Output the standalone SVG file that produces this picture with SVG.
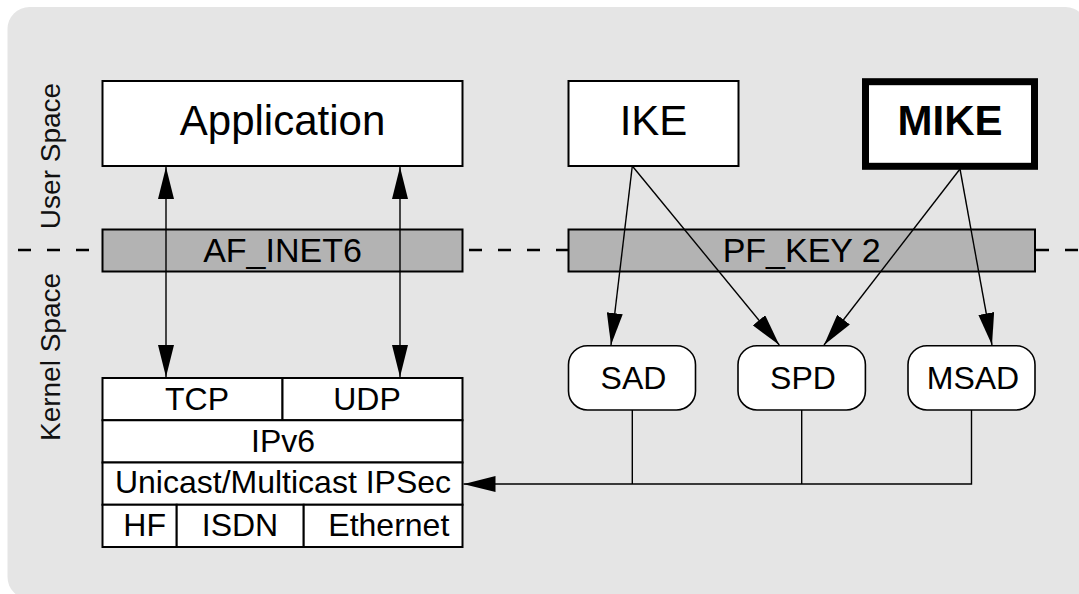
<svg xmlns="http://www.w3.org/2000/svg" width="1079" height="594" viewBox="0 0 1079 594">
  <style>
    text { font-family: "Liberation Sans", Arial, sans-serif; fill: #000; }
    .box { fill: #fff; stroke: #000; stroke-width: 2; }
    .bar { fill: #b3b3b3; stroke: #000; stroke-width: 2; }
    .db { fill: #fff; stroke: #000; stroke-width: 1.6; }
    .cell { fill: #fff; stroke: #000; stroke-width: 2; }
    .conn { fill: none; stroke: #000; stroke-width: 1.4; }
    .dash { fill: none; stroke: #000; stroke-width: 2.6; stroke-dasharray: 13 16; }
    .big { font-size: 42px; text-anchor: middle; }
    .mid { font-size: 34px; text-anchor: middle; }
    .sm { font-size: 32px; text-anchor: middle; }
    .side { font-size: 28px; text-anchor: middle; fill: #111; }
  </style>
  <defs>
    <marker id="arr" markerUnits="userSpaceOnUse" viewBox="0 0 32 16" markerWidth="32" markerHeight="16" refX="32" refY="8" orient="auto-start-reverse">
      <path d="M0,0 L32,8 L0,16 Z" fill="#000"/>
    </marker>
  </defs>

  <rect id="background" x="7.5" y="7" width="1080" height="592" rx="22" ry="22" fill="#e5e5e5"/>

  <g id="labels">
    <text class="side" transform="translate(60,156) rotate(-90)">User Space</text>
    <text class="side" transform="translate(60,357) rotate(-90)">Kernel Space</text>
  </g>

  <g id="boundary">
    <line class="dash" x1="18" y1="250" x2="102" y2="250"/>
    <line class="dash" x1="469" y1="250" x2="568" y2="250"/>
    <line class="dash" x1="1036" y1="250" x2="1079" y2="250"/>
  </g>

  <g id="application">
    <rect class="box" x="102.5" y="81" width="360" height="85"/>
    <text class="big" x="282.5" y="135">Application</text>
  </g>
  <g id="ike">
    <rect class="box" x="568.5" y="81" width="170" height="85"/>
    <text class="big" x="653.5" y="135">IKE</text>
  </g>
  <g id="mike">
    <rect class="box" x="865.5" y="81.7" width="169" height="84.6" style="stroke-width:7"/>
    <text class="big" x="950" y="135" font-weight="bold">MIKE</text>
  </g>

  <g id="af_inet6">
    <rect class="bar" x="102.5" y="229.5" width="360" height="42"/>
    <text class="mid" x="282.5" y="262">AF_INET6</text>
  </g>
  <g id="pf_key2">
    <rect class="bar" x="568.5" y="229.5" width="466.5" height="42"/>
    <text class="mid" x="801.7" y="262">PF_KEY 2</text>
  </g>

  <g id="sad">
    <rect class="db" x="568.5" y="345.7" width="127" height="64.3" rx="19" ry="19"/>
    <text class="sm" x="633.5" y="389.3">SAD</text>
  </g>
  <g id="spd">
    <rect class="db" x="738" y="345.7" width="127.4" height="64.3" rx="19" ry="19"/>
    <text class="sm" x="803" y="389.3">SPD</text>
  </g>
  <g id="msad">
    <rect class="db" x="908" y="345.7" width="127" height="64.3" rx="19" ry="19"/>
    <text class="sm" x="973" y="389.3">MSAD</text>
  </g>

  <g id="stack">
    <g id="tcp">
      <rect class="cell" x="102.5" y="378" width="180" height="42.25"/>
      <text class="sm" x="197" y="410">TCP</text>
    </g>
    <g id="udp">
      <rect class="cell" x="282.5" y="378" width="180" height="42.25"/>
      <text class="sm" x="367" y="410">UDP</text>
    </g>
    <g id="ipv6">
      <rect class="cell" x="102.5" y="420.25" width="360" height="42.25"/>
      <text class="sm" x="283" y="451.7">IPv6</text>
    </g>
    <g id="ipsec">
      <rect class="cell" x="102.5" y="462.5" width="360" height="42.25"/>
      <text class="sm" x="283" y="493.3">Unicast/Multicast IPSec</text>
    </g>
    <g id="hf">
      <rect class="cell" x="102.5" y="504.75" width="74.2" height="42.25"/>
      <text class="sm" x="144.6" y="536">HF</text>
    </g>
    <g id="isdn">
      <rect class="cell" x="176.7" y="504.75" width="127" height="42.25"/>
      <text class="sm" x="240" y="536">ISDN</text>
    </g>
    <g id="ethernet">
      <rect class="cell" x="303.7" y="504.75" width="158.8" height="42.25"/>
      <text class="sm" x="388.8" y="536">Ethernet</text>
    </g>
  </g>

  <g id="connectors">
    <line class="conn" x1="166" y1="167" x2="166" y2="377" marker-start="url(#arr)" marker-end="url(#arr)"/>
    <line class="conn" x1="400" y1="167" x2="400" y2="377" marker-start="url(#arr)" marker-end="url(#arr)"/>
    <line class="conn" x1="632.3" y1="166" x2="611" y2="345" marker-end="url(#arr)"/>
    <line class="conn" x1="632.3" y1="166" x2="779.3" y2="345" marker-end="url(#arr)"/>
    <line class="conn" x1="960" y1="169" x2="824" y2="345" marker-end="url(#arr)"/>
    <line class="conn" x1="960" y1="169" x2="992" y2="345" marker-end="url(#arr)"/>
    <line class="conn" x1="632.3" y1="410" x2="632.3" y2="484"/>
    <line class="conn" x1="801.7" y1="410" x2="801.7" y2="484"/>
    <polyline class="conn" points="971.5,410 971.5,484 463.5,484" marker-end="url(#arr)"/>
  </g>
</svg>
